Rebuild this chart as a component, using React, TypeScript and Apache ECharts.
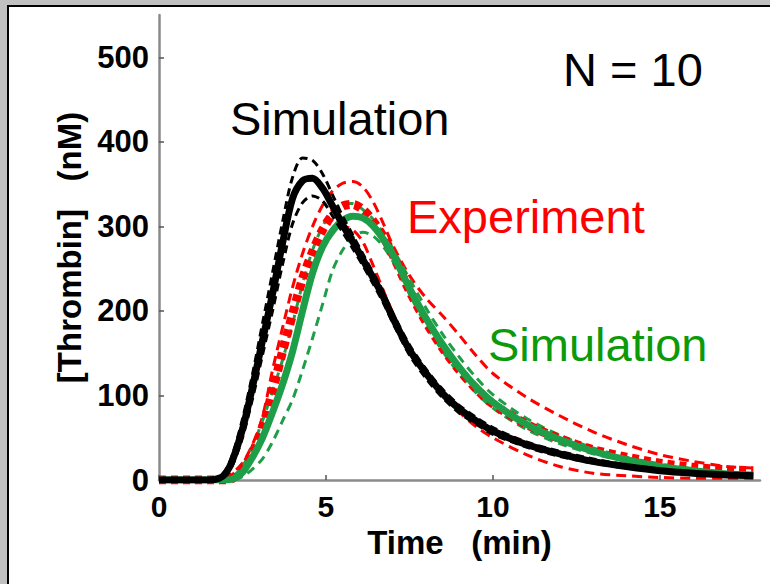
import React, { useEffect, useRef } from "react";
import * as echarts from "echarts";

// Time grid (min)
const times = [0, 1, 1.5, 1.8, 2.0, 2.2, 2.5, 2.8, 3.1, 3.4, 3.7, 4.0, 4.3, 4.6, 4.9, 5.2, 5.5, 5.8, 6.1, 6.4, 6.7, 7.0, 7.5, 8, 8.5, 9, 9.5, 10, 11, 12, 13, 14, 15, 16, 17, 17.8];

// Simulation (black) mean and bounds
const blackMean = [0, 0, 0, 2, 8, 23, 60, 110, 165, 220, 280, 333, 354, 357, 345, 324, 302, 282, 261, 240, 218, 192, 154, 126, 102, 84, 70, 58, 42, 31, 22, 16, 11, 8, 6, 5];
const blackUpper = [0, 0, 1, 4, 12, 30, 72, 125, 185, 245, 305, 358, 381, 378, 362, 337, 312, 290, 268, 246, 224, 198, 160, 131, 107, 88, 74, 62, 45, 34, 25, 18, 13, 9, 7, 6];
const blackLower = [0, 0, 0, 1, 5, 17, 50, 96, 148, 200, 255, 303, 328, 336, 330, 312, 293, 274, 254, 233, 211, 186, 148, 120, 97, 79, 66, 54, 39, 28, 20, 14, 10, 7, 5, 4];

// Simulation (green) mean and bounds
const greenMean = [0, 0, 0, 0, 0, 1, 9, 27, 50, 80, 113, 152, 200, 245, 276, 295, 307, 312, 310, 301, 286, 267, 227, 191, 160, 133, 110, 92, 66, 48, 34, 24, 16, 11, 7, 6];
const greenUpper = [0, 0, 0, 0, 1, 4, 16, 40, 70, 105, 142, 185, 232, 272, 300, 318, 327, 327, 320, 309, 293, 274, 238, 203, 172, 145, 121, 101, 73, 53, 38, 27, 19, 13, 9, 7];
const greenLower = [0, 0, 0, 0, 0, 0, 4, 13, 25, 45, 70, 95, 130, 168, 208, 248, 272, 287, 293, 289, 277, 259, 220, 183, 152, 125, 103, 85, 60, 43, 31, 22, 14, 10, 6, 5];

// Experiment (red) mean and bounds
const redMean = [0, 0, 0, 0, 0, 2, 14, 32, 62, 105, 152, 196, 238, 270, 296, 314, 324, 326, 320, 307, 289, 267, 224, 187, 156, 130, 108, 90, 66, 49, 36, 27, 20, 15, 12, 11];
const redUpper = [0, 0, 0, 1, 3, 8, 20, 42, 75, 130, 180, 228, 268, 300, 325, 342, 351, 353, 347, 330, 305, 278, 242, 215, 194, 171, 147, 126, 98, 76, 57, 42, 30, 22, 16, 14];
const redLower = [0, 0, 0, 0, 0, 1, 8, 25, 50, 80, 115, 155, 200, 240, 272, 292, 300, 296, 282, 255, 226, 198, 156, 126, 100, 80, 63, 50, 30, 16, 8, 5, 3, 2, 2, 2];

const xTicks = [0, 5, 10, 15];
const yTicks = [0, 100, 200, 300, 400, 500];

const FONT = "'Liberation Sans', Arial, Helvetica, sans-serif";
const RED = "#ff0000";
const GREEN = "#1f9e4a";
const BLACK = "#000000";

const mk = (vals: number[]) => times.map((t, i) => [t, vals[i]]);

function line(name: string, vals: number[], color: string, width: number, type: any, z: number) {
  return {
    name,
    type: "line",
    data: mk(vals),
    showSymbol: false,
    symbol: "none",
    smooth: 0.3,
    silent: true,
    z,
    lineStyle: { color, width, type, cap: "butt", join: "round" },
  };
}

export default function App() {
  const ref = useRef<HTMLDivElement>(null);
  useEffect(() => {
    if (!ref.current) return;
    const chart = echarts.init(ref.current, null, { renderer: "svg" });
    const axisName = { color: BLACK, fontSize: 33, fontWeight: "bold", fontFamily: FONT };
    chart.setOption({
      animation: false,
      backgroundColor: "#c0c0c0",
      grid: { left: 159, top: 15, right: 10, bottom: 104, containLabel: false },
      xAxis: {
        type: "value",
        min: 0,
        max: 18,
        splitLine: { show: false },
        axisLine: { lineStyle: { color: "#8a8a8a", width: 2.5 } },
        axisTick: { inside: true, length: 5, customValues: xTicks, lineStyle: { color: "#555", width: 1.5 } },
        axisLabel: { customValues: xTicks, color: BLACK, fontSize: 30, fontWeight: "bold", fontFamily: FONT, margin: 11 },
        name: "Time   (min)",
        nameLocation: "middle",
        nameGap: 44,
        nameTextStyle: axisName,
      },
      yAxis: {
        type: "value",
        min: 0,
        max: 550,
        splitLine: { show: false },
        axisLine: { lineStyle: { color: "#8a8a8a", width: 2.5 } },
        axisTick: { inside: true, length: 5, customValues: yTicks, lineStyle: { color: "#555", width: 1.5 } },
        axisLabel: { customValues: yTicks, color: BLACK, fontSize: 31, fontWeight: "bold", fontFamily: FONT, margin: 10 },
        name: "[Thrombin]   (nM)",
        nameLocation: "middle",
        nameGap: 70,
        nameRotate: 90,
        nameTextStyle: axisName,
      },
      graphic: {
        elements: [
          {
            type: "rect",
            z: -10,
            silent: true,
            shape: { x: 8, y: 6, width: 800, height: 620 },
            style: { fill: "#ffffff", stroke: "#000000", lineWidth: 2 },
          },
          {
            type: "text", z: 10, x: 230, y: 118,
            style: { text: "Simulation", fill: BLACK, fontSize: 47, fontFamily: FONT, textVerticalAlign: "middle" },
          },
          {
            type: "text", z: 10, x: 407, y: 216,
            style: { text: "Experiment", fill: RED, fontSize: 47, fontFamily: FONT, textVerticalAlign: "middle" },
          },
          {
            type: "text", z: 10, x: 488, y: 344,
            style: { text: "Simulation", fill: "#0a9a0a", fontSize: 47, fontFamily: FONT, textVerticalAlign: "middle" },
          },
          {
            type: "text", z: 10, x: 563, y: 69,
            style: { text: "N = 10", fill: BLACK, fontSize: 47, fontFamily: FONT, textVerticalAlign: "middle" },
          },
        ],
      },
      series: [
        line("Experiment upper", redUpper, RED, 3, [10, 6], 2),
        line("Experiment lower", redLower, RED, 3, [10, 6], 2),
        line("Green sim upper", greenUpper, GREEN, 3, [9, 6], 3),
        line("Green sim lower", greenLower, GREEN, 3, [9, 6], 3),
        line("Experiment", redMean, RED, 9, [7, 5], 4),
        line("Green simulation", greenMean, GREEN, 7, "solid", 5),
        line("Black sim upper", blackUpper, BLACK, 3, [8, 5], 6),
        line("Black sim lower", blackLower, BLACK, 3, [8, 5], 6),
        line("Black simulation", blackMean, BLACK, 7, "solid", 7),
      ],
    });
    return () => chart.dispose();
  }, []);
  return (
    <div
      ref={ref}
      style={{ position: "fixed", left: 0, top: 0, width: 770, height: 584 }}
    />
  );
}
